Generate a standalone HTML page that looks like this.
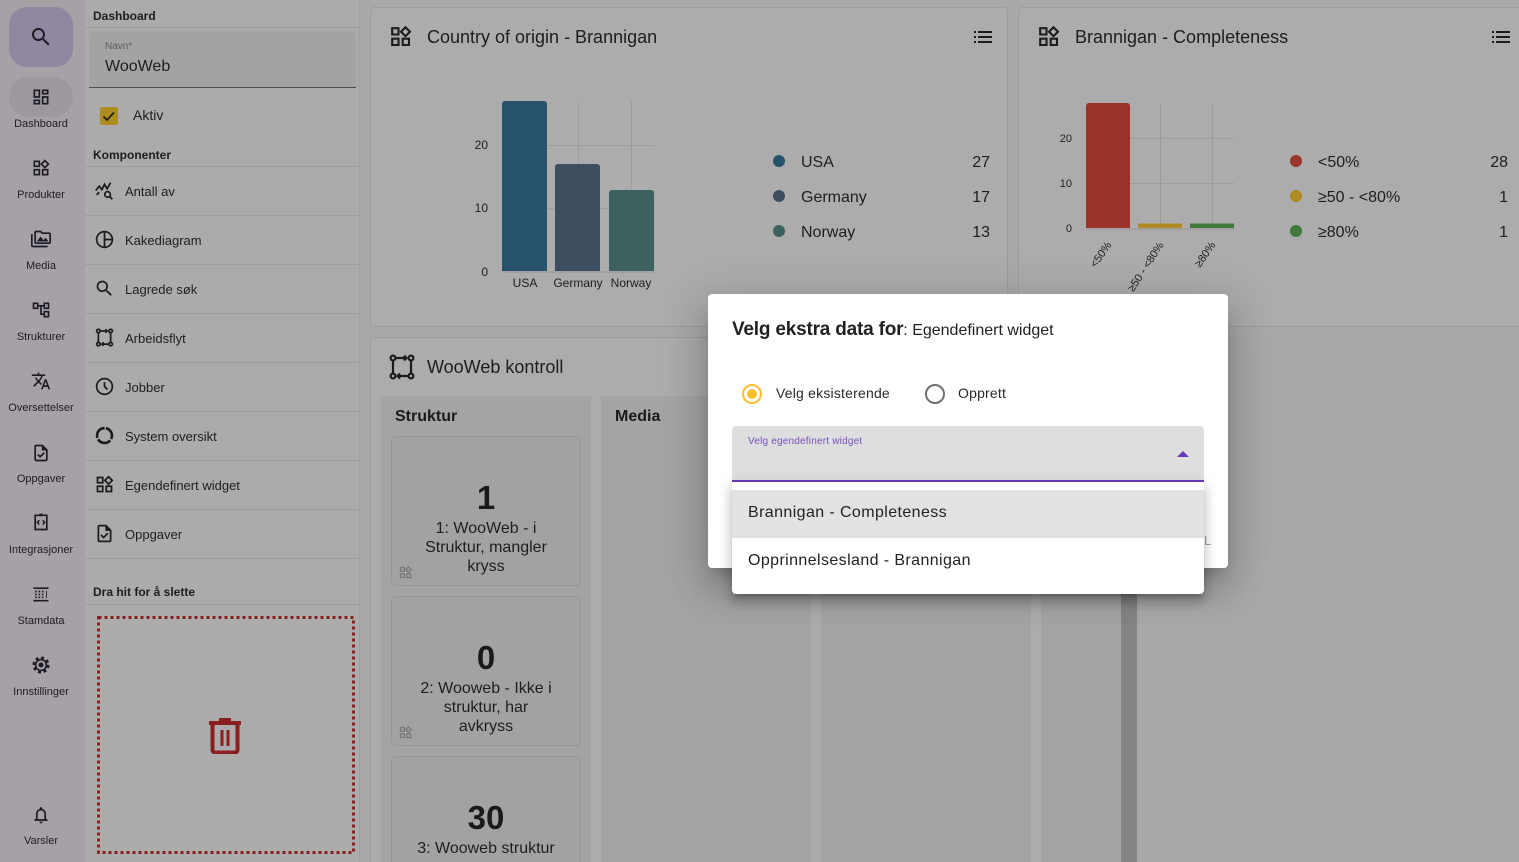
<!DOCTYPE html>
<html style="overflow:hidden;background:#a9a9a9"><head><meta charset="utf-8">
<style>
*{box-sizing:border-box;margin:0;padding:0}
html,body{width:1519px;height:862px;overflow:hidden}
body{background:#a9a9a9;font-family:"Liberation Sans",sans-serif;color:#1e1e1e}
#root{position:relative;width:1519px;height:862px;overflow:hidden;background:#a9a9a9}
.a{position:absolute}
.sl{position:absolute;left:0;width:82px;text-align:center;font-size:11px;color:#1f1b26;line-height:14px}
.si{position:absolute;left:31px;width:20px;height:20px}
.pl{position:absolute;left:85px;width:275px;height:1px;background:#9d9d9d}
.pt{position:absolute;left:125px;font-size:13px;line-height:16px;color:#1e1e1e}
.pi{position:absolute;left:94px;width:21px;height:21px}
.tile{position:absolute;left:391px;width:190px;height:150px;background:#a2a2a2;border:1px solid #979797;border-radius:4px;overflow:hidden}
.num{position:absolute;left:0;width:100%;text-align:center;font-size:33px;font-weight:bold;color:#1a1a1a;line-height:36px}
.tt{position:absolute;left:0;width:100%;text-align:center;font-size:16px;line-height:19px;color:#1e1e1e}
.ti{position:absolute;left:6px;width:15px;height:15px}
</style></head><body><div id="root">

<!-- left sidebar -->
<div class="a" style="left:0;top:0;width:85px;height:862px;background:#a6a1a6;box-shadow:1px 0 2px rgba(0,0,0,.12)"></div>
<div class="a" style="left:9px;top:7px;width:64px;height:60px;border-radius:18px;background:#8f88a0"></div>
<svg class="a" style="left:29px;top:25px" width="24" height="24" viewBox="0 0 24 24"><path fill="#1c1a24" d="M15.5 14h-.79l-.28-.27C15.41 12.59 16 11.11 16 9.5 16 5.91 13.09 3 9.5 3S3 5.91 3 9.5 5.91 16 9.5 16c1.610 0 3.090-.59 4.230-1.57l.27.28v.79l5 4.99L20.49 19l-4.99-5zm-6 0C7.01 14 5 11.99 5 9.5S7.01 5 9.5 5 14 7.01 14 9.5 11.99 14 9.5 14z"/></svg>
<div class="a" style="left:9px;top:77px;width:64px;height:40px;border-radius:20px;background:#9d989d"></div>

<svg class="si" style="top:87px" viewBox="0 0 24 24"><path fill="#1c1a24" d="M19 5v2h-4V5h4M9 5v6H5V5h4m10 8v6h-4v-6h4M9 17v2H5v-2h4M21 3h-8v6h8V3zM11 3H3v10h8V3zm10 8h-8v10h8V11zm-10 4H3v6h8v-6z"/></svg>
<div class="sl" style="top:117px">Dashboard</div>
<svg class="si" style="top:158px" viewBox="0 0 24 24"><path fill="#1c1a24" d="M16.66 4.52l2.83 2.83-2.83 2.83-2.830-2.830 2.830-2.830M9 5v4H5V5h4m10 10v4h-4v-4h4M9 15v4H5v-4h4m7.66-13.31L11 7.34 16.66 13l5.66-5.66-5.66-5.65zM11 3H3v8h8V3zm10 10h-8v8h8v-8zm-10 0H3v8h8v-8z"/></svg>
<div class="sl" style="top:188px">Produkter</div>
<svg class="si" style="top:229px" viewBox="0 0 24 24"><path fill="#1c1a24" d="M2 6H0v5h.01L0 20c0 1.1.9 2 2 2h18v-2H2V6zm5 9h14l-3.5-4.5-2.5 3.01L11.5 9zM22 4h-8l-2-2H6c-1.1 0-1.99.9-1.99 2L4 16c0 1.1.9 2 2 2h16c1.1 0 2-.9 2-2V6c0-1.1-.9-2-2-2zm0 12H6V4h5.17l1.41 1.41.59.59H22v10z"/></svg>
<div class="sl" style="top:259px">Media</div>
<svg class="si" style="top:300px" viewBox="0 0 24 24"><path fill="#1c1a24" d="M22 11V3h-7v3H9V3H2v8h7V8h2v10h4v3h7v-8h-7v3h-2V8h2v3h7zM7 9H4V5h3v4zm10 6h3v4h-3v-4zm0-10h3v4h-3V5z"/></svg>
<div class="sl" style="top:330px">Strukturer</div>
<svg class="si" style="top:371px" viewBox="0 0 24 24"><path fill="#1c1a24" d="M12.87 15.07l-2.54-2.51.03-.03c1.74-1.94 2.98-4.17 3.71-6.53H17V4h-7V2H8v2H1v1.99h11.17C11.5 7.92 10.44 9.75 9 11.35 8.07 10.32 7.3 9.19 6.69 8h-2c.73 1.63 1.73 3.17 2.98 4.56l-5.09 5.02L4 19l5-5 3.11 3.11.76-2.04zM18.5 10h-2L12 22h2l1.12-3h4.75L21 22h2l-4.5-12zm-2.62 7l1.620-4.33L19.12 17h-3.24z"/></svg>
<div class="sl" style="top:401px">Oversettelser</div>
<svg class="si" style="top:443px" viewBox="0 0 24 24"><path fill="#1c1a24" d="M14 2H6c-1.1 0-1.99.9-1.99 2L4 20c0 1.1.89 2 1.99 2H18c1.1 0 2-.9 2-2V8l-6-6zM18 20H6V4h7v5h5v11zm-9.18-6.95L7.4 14.46 10.94 18l5.66-5.66-1.41-1.41-4.24 4.24-2.13-2.12z"/></svg>
<div class="sl" style="top:472px">Oppgaver</div>
<svg class="si" style="top:512px" viewBox="0 0 24 24"><path fill="none" stroke="#1c1a24" stroke-width="2" d="M5 4h14v17H5z"/><path fill="#1c1a24" d="M10 2h4v3h-4z"/><path fill="none" stroke="#1c1a24" stroke-width="1.8" d="M10 10l-2.5 2.5L10 15M14 10l2.5 2.5L14 15"/></svg>
<div class="sl" style="top:543px">Integrasjoner</div>
<svg class="si" style="top:584px" viewBox="0 0 24 24"><path fill="#1c1a24" d="M3 4h18v2H3zM3 19h18v2H3zM5 8h2v2H5zM9 8h2v2H9zM13 8h2v2h-2zM5 11.5h2v2H5zM9 11.5h2v2H9zM13 11.5h2v2h-2zM5 15h2v2H5zM9 15h2v2H9zM13 15h2v2h-2zM18 8h1v9h-1z"/></svg>
<div class="sl" style="top:614px">Stamdata</div>
<svg class="si" style="top:655px" viewBox="0 0 24 24"><circle cx="12" cy="12" r="8.5" fill="none" stroke="#1c1a24" stroke-width="3.5" stroke-dasharray="3.4 3.27"/><circle cx="12" cy="12" r="6.5" fill="none" stroke="#1c1a24" stroke-width="2"/><circle cx="12" cy="12" r="3" fill="#1c1a24"/></svg>
<div class="sl" style="top:685px">Innstillinger</div>
<svg class="si" style="top:805px" viewBox="0 0 24 24"><path fill="#1c1a24" d="M12 22c1.1 0 2-.9 2-2h-4c0 1.1.89 2 2 2zm6-6v-5c0-3.07-1.64-5.64-4.5-6.32V4c0-.83-.67-1.5-1.5-1.5s-1.5.67-1.5 1.5v.68C7.63 5.36 6 7.92 6 11v5l-2 2v1h16v-1l-2-2zm-2 1H8v-6c0-2.48 1.51-4.5 4-4.5s4 2.02 4 4.5v6z"/></svg>
<div class="sl" style="top:834px">Varsler</div>

<!-- second panel -->
<div class="a" style="left:85px;top:0;width:275px;height:862px;background:#ababab;border-right:1px solid #a0a0a0"></div>
<div class="a" style="left:93px;top:9px;font-size:12px;font-weight:bold;color:#1e1e1e">Dashboard</div>
<div class="pl" style="top:27px"></div>
<div class="a" style="left:89px;top:32px;width:267px;height:56px;background:#a3a3a3;border-radius:4px 4px 0 0;border-bottom:1px solid #4e4e4e"></div>
<div class="a" style="left:105px;top:41px;font-size:10px;color:#5e5e5e">Navn*</div>
<div class="a" style="left:105px;top:58px;font-size:16px;color:#1e1e1e">WooWeb</div>
<div class="a" style="left:100px;top:107px;width:18px;height:18px;border-radius:2px;background:#ae8c20"></div>
<svg class="a" style="left:100px;top:107px" width="18" height="18" viewBox="0 0 18 18"><path d="M3.5 9.5l3.5 3.5 7-7.5" fill="none" stroke="#1e1e1e" stroke-width="1.8"/></svg>
<div class="a" style="left:133px;top:107px;font-size:14px;color:#1e1e1e">Aktiv</div>
<div class="a" style="left:93px;top:148px;font-size:12px;font-weight:bold;color:#1e1e1e">Komponenter</div>
<div class="pl" style="top:166px"></div>

<svg class="pi" style="top:180px" viewBox="0 0 24 24"><path d="M2 12l4-5 3 4 3-6 3 5 4-7" fill="none" stroke="#1c1c1c" stroke-width="2"/><circle cx="15.5" cy="16.5" r="3.2" fill="none" stroke="#1c1c1c" stroke-width="2"/><path d="M18 19l3 3" stroke="#1c1c1c" stroke-width="2"/><path d="M3 17l3-3" stroke="#1c1c1c" stroke-width="2"/></svg>
<div class="pt" style="top:184px">Antall av</div>
<div class="pl" style="top:215px"></div>
<svg class="pi" style="top:229px" viewBox="0 0 24 24"><circle cx="12" cy="12" r="9" fill="none" stroke="#1c1c1c" stroke-width="2"/><path d="M12 3v18M12 12h9" stroke="#1c1c1c" stroke-width="2"/></svg>
<div class="pt" style="top:233px">Kakediagram</div>
<div class="pl" style="top:264px"></div>
<svg class="pi" style="top:278px" viewBox="0 0 24 24"><path fill="#1c1c1c" d="M15.5 14h-.79l-.28-.27C15.41 12.59 16 11.11 16 9.5 16 5.91 13.09 3 9.5 3S3 5.91 3 9.5 5.91 16 9.5 16c1.61 0 3.09-.59 4.23-1.57l.27.28v.79l5 4.99L20.49 19l-4.99-5zm-6 0C7.01 14 5 11.99 5 9.5S7.01 5 9.5 5 14 7.01 14 9.5 11.99 14 9.5 14z"/></svg>
<div class="pt" style="top:282px">Lagrede søk</div>
<div class="pl" style="top:313px"></div>
<svg class="pi" style="top:327px" viewBox="0 0 24 24"><g fill="none" stroke="#1c1c1c" stroke-width="2"><circle cx="5" cy="4.5" r="2"/><circle cx="19" cy="4.5" r="2"/><circle cx="5" cy="19.5" r="2"/><circle cx="19" cy="19.5" r="2"/><path d="M5 6.5v11M19 6.5v11M7 4.5h8M13 2.5l2 2-2 2M9 19.5h8M11 17.5l-2 2 2 2"/></g></svg>
<div class="pt" style="top:331px">Arbeidsflyt</div>
<div class="pl" style="top:362px"></div>
<svg class="pi" style="top:376px" viewBox="0 0 24 24"><circle cx="12" cy="12" r="9" fill="none" stroke="#1c1c1c" stroke-width="2"/><path d="M12 7v5l3.5 3.5" fill="none" stroke="#1c1c1c" stroke-width="2"/></svg>
<div class="pt" style="top:380px">Jobber</div>
<div class="pl" style="top:411px"></div>
<svg class="pi" style="top:425px" viewBox="0 0 24 24"><circle cx="12" cy="12" r="8.5" fill="none" stroke="#1c1c1c" stroke-width="3" stroke-dasharray="16 1.8" transform="rotate(-80 12 12)"/></svg>
<div class="pt" style="top:429px">System oversikt</div>
<div class="pl" style="top:460px"></div>
<svg class="pi" style="top:474px" viewBox="0 0 24 24"><path fill="#1c1c1c" d="M16.66 4.52l2.83 2.83-2.83 2.83-2.830-2.830 2.830-2.830M9 5v4H5V5h4m10 10v4h-4v-4h4M9 15v4H5v-4h4m7.66-13.31L11 7.34 16.66 13l5.66-5.66-5.66-5.65zM11 3H3v8h8V3zm10 10h-8v8h8v-8zm-10 0H3v8h8v-8z"/></svg>
<div class="pt" style="top:478px">Egendefinert widget</div>
<div class="pl" style="top:509px"></div>
<svg class="pi" style="top:523px" viewBox="0 0 24 24"><path fill="#1c1c1c" d="M14 2H6c-1.1 0-1.99.9-1.99 2L4 20c0 1.1.89 2 1.99 2H18c1.1 0 2-.9 2-2V8l-6-6zM18 20H6V4h7v5h5v11zm-9.18-6.95L7.4 14.46 10.94 18l5.66-5.66-1.41-1.41-4.24 4.24-2.13-2.12z"/></svg>
<div class="pt" style="top:527px">Oppgaver</div>
<div class="pl" style="top:558px"></div>
<div class="a" style="left:93px;top:585px;font-size:12px;font-weight:bold;color:#1e1e1e">Dra hit for å slette</div>
<div class="pl" style="top:604px"></div>
<svg class="a" style="left:96px;top:615px" width="260" height="240"><rect x="2.5" y="2.5" width="255" height="235" fill="none" stroke="#8a1f1f" stroke-width="3" stroke-dasharray="3 3"/></svg>
<svg class="a" style="left:208px;top:716px" width="34" height="38" viewBox="0 0 34 38"><path d="M1 5h32v4H1z M11 2h12v4H11z" fill="#8a1f1f"/><path d="M4.5 9v25a2.5 2.5 0 0 0 2.5 2.5h20a2.5 2.5 0 0 0 2.5-2.5V9" fill="none" stroke="#8a1f1f" stroke-width="4"/><path d="M12.5 14h3v16h-3zM18.5 14h3v16h-3z" fill="#8a1f1f"/></svg>

<!-- cards -->
<div class="a" style="left:370px;top:7px;width:638px;height:320px;background:#acacac;border:1px solid #9e9e9e;border-radius:4px"></div>
<div class="a" style="left:1018px;top:7px;width:501px;height:320px;background:#acacac;border:1px solid #9e9e9e;border-right:none;border-radius:4px 0 0 4px"></div>
<div class="a" style="left:370px;top:337px;width:767px;height:525px;background:#acacac;border:1px solid #9e9e9e;border-bottom:none;border-radius:4px 4px 0 0"></div>

<div class="a" style="left:427px;top:27px;font-size:18px;color:#1d1d1d">Country of origin - Brannigan</div>
<div class="a" style="left:1075px;top:27px;font-size:18px;color:#1d1d1d">Brannigan - Completeness</div>
<div class="a" style="left:427px;top:357px;font-size:18px;color:#1d1d1d">WooWeb kontroll</div>

<!-- columns -->
<div class="a" style="left:381px;top:396px;width:210px;height:466px;background:#a4a4a4"></div>
<div class="a" style="left:601px;top:396px;width:210px;height:466px;background:#a4a4a4"></div>
<div class="a" style="left:821px;top:396px;width:210px;height:466px;background:#a4a4a4"></div>
<div class="a" style="left:1041px;top:396px;width:80px;height:466px;background:#a4a4a4"></div>
<div class="a" style="left:1121px;top:396px;width:16px;height:466px;background:#858585"></div>
<div class="a" style="left:395px;top:408px;font-size:16px;font-weight:bold;color:#1a1a1a">Struktur</div>
<div class="a" style="left:615px;top:408px;font-size:16px;font-weight:bold;color:#1a1a1a">Media</div>

<div class="tile" style="top:436px">
  <div class="num" style="top:43px">1</div>
  <div class="tt" style="top:82px">1: WooWeb - i<br>Struktur, mangler<br>kryss</div>
  <svg class="ti" style="top:128px" viewBox="0 0 24 24"><path fill="#777" d="M16.66 4.52l2.83 2.83-2.83 2.83-2.830-2.830 2.830-2.830M9 5v4H5V5h4m10 10v4h-4v-4h4M9 15v4H5v-4h4m7.66-13.31L11 7.34 16.66 13l5.66-5.66-5.66-5.65zM11 3H3v8h8V3zm10 10h-8v8h8v-8zm-10 0H3v8h8v-8z"/></svg>
</div>
<div class="tile" style="top:596px">
  <div class="num" style="top:43px">0</div>
  <div class="tt" style="top:82px">2: Wooweb - Ikke i<br>struktur, har<br>avkryss</div>
  <svg class="ti" style="top:128px" viewBox="0 0 24 24"><path fill="#777" d="M16.66 4.52l2.83 2.83-2.83 2.83-2.830-2.830 2.830-2.830M9 5v4H5V5h4m10 10v4h-4v-4h4M9 15v4H5v-4h4m7.66-13.31L11 7.34 16.66 13l5.66-5.66-5.66-5.65zM11 3H3v8h8v-8zm10 10h-8v8h8v-8zm-10 0H3v8h8v-8z"/></svg>
</div>
<div class="tile" style="top:756px;height:106px;border-bottom:none;border-radius:4px 4px 0 0">
  <div class="num" style="top:43px">30</div>
  <div class="tt" style="top:82px">3: Wooweb struktur</div>
</div>

<!-- charts & icons -->
<svg class="a" style="left:0;top:0" width="1519" height="862" font-family="Liberation Sans, sans-serif">
  <g fill="#1c1c1c">
    <path transform="translate(388,24) scale(1.05)" d="M16.66 4.52l2.83 2.83-2.83 2.83-2.830-2.830 2.830-2.830M9 5v4H5V5h4m10 10v4h-4v-4h4M9 15v4H5v-4h4m7.66-13.31L11 7.34 16.66 13l5.66-5.66-5.66-5.65zM11 3H3v8h8V3zm10 10h-8v8h8v-8zm-10 0H3v8h8v-8z"/>
    <path transform="translate(1036,24) scale(1.05)" d="M16.66 4.52l2.83 2.83-2.83 2.83-2.830-2.830 2.830-2.830M9 5v4H5V5h4m10 10v4h-4v-4h4M9 15v4H5v-4h4m7.66-13.31L11 7.34 16.66 13l5.66-5.66-5.66-5.65zM11 3H3v8h8V3zm10 10h-8v8h8v-8zm-10 0H3v8h8v-8z"/>
    <rect x="974" y="31" width="2" height="2"/><rect x="978" y="31" width="14" height="2"/>
    <rect x="974" y="36" width="2" height="2"/><rect x="978" y="36" width="14" height="2"/>
    <rect x="974" y="41" width="2" height="2"/><rect x="978" y="41" width="14" height="2"/>
    <rect x="1492" y="31" width="2" height="2"/><rect x="1496" y="31" width="14" height="2"/>
    <rect x="1492" y="36" width="2" height="2"/><rect x="1496" y="36" width="14" height="2"/>
    <rect x="1492" y="41" width="2" height="2"/><rect x="1496" y="41" width="14" height="2"/>
  </g>
  <g fill="none" stroke="#1c1c1c" stroke-width="2.2" transform="translate(389,354)">
    <circle cx="4" cy="4" r="2.4"/><circle cx="22" cy="4" r="2.4"/><circle cx="4" cy="22" r="2.4"/><circle cx="22" cy="22" r="2.4"/>
    <path d="M4 6.5v13M22 6.5v13M6.5 4h11M15 1.5l2.5 2.5-2.5 2.5M8.5 22h11M11 19.5L8.5 22l2.5 2.5"/>
  </g>

  <!-- chart 1 -->
  <g stroke="#9d9d9d" stroke-width="1">
    <line x1="502" y1="145.5" x2="654" y2="145.5"/>
    <line x1="502" y1="208.5" x2="654" y2="208.5"/>
    <line x1="578.5" y1="101" x2="578.5" y2="271"/>
    <line x1="631.5" y1="101" x2="631.5" y2="271"/>
  </g>
  <line x1="502" y1="272" x2="654" y2="272" stroke="#a0a0a0" stroke-width="2"/>
  <path d="M502 271V104a3 3 0 0 1 3-3h39a3 3 0 0 1 3 3V271z" fill="#26536b"/>
  <path d="M555 271V167a3 3 0 0 1 3-3h39a3 3 0 0 1 3 3V271z" fill="#3c4e60"/>
  <path d="M609 271V193a3 3 0 0 1 3-3h39a3 3 0 0 1 3 3V271z" fill="#3b625f"/>
  <g font-size="12" fill="#1e1e1e" text-anchor="end">
    <text x="488" y="149">20</text><text x="488" y="212">10</text><text x="488" y="276">0</text>
  </g>
  <g font-size="12" fill="#1e1e1e" text-anchor="middle">
    <text x="525" y="287">USA</text><text x="578" y="287">Germany</text><text x="631" y="287">Norway</text>
  </g>
  <circle cx="779" cy="161" r="6" fill="#26536b"/>
  <circle cx="779" cy="196" r="6" fill="#3c4e60"/>
  <circle cx="779" cy="231" r="6" fill="#3b625f"/>
  <g font-size="16" fill="#1e1e1e">
    <text x="801" y="167">USA</text><text x="801" y="202">Germany</text><text x="801" y="237">Norway</text>
  </g>
  <g font-size="16" fill="#1e1e1e" text-anchor="end">
    <text x="990" y="167">27</text><text x="990" y="202">17</text><text x="990" y="237">13</text>
  </g>

  <!-- chart 2 -->
  <g stroke="#9d9d9d" stroke-width="1">
    <line x1="1086" y1="138.5" x2="1234" y2="138.5"/>
    <line x1="1086" y1="183.5" x2="1234" y2="183.5"/>
    <line x1="1160.5" y1="103" x2="1160.5" y2="228"/>
    <line x1="1212.5" y1="103" x2="1212.5" y2="228"/>
  </g>
  <line x1="1086" y1="229" x2="1234" y2="229" stroke="#a0a0a0" stroke-width="2"/>
  <path d="M1086 228V106a3 3 0 0 1 3-3h38a3 3 0 0 1 3 3V228z" fill="#9a3428"/>
  <rect x="1138" y="223.5" width="44" height="4.5" fill="#b08a22"/>
  <rect x="1190" y="223.5" width="44" height="4.5" fill="#3f7a3b"/>
  <g font-size="11" fill="#1e1e1e" text-anchor="end">
    <text x="1072" y="142">20</text><text x="1072" y="187">10</text><text x="1072" y="232">0</text>
  </g>
  <g font-size="11" fill="#1e1e1e" text-anchor="end">
    <text transform="translate(1112,245) rotate(-55)">&lt;50%</text>
    <text transform="translate(1164,245) rotate(-57)">≥50 - &lt;80%</text>
    <text transform="translate(1216,245) rotate(-55)">≥80%</text>
  </g>
  <circle cx="1296" cy="161" r="6" fill="#9a3428"/>
  <circle cx="1296" cy="196" r="6" fill="#b08a22"/>
  <circle cx="1296" cy="231" r="6" fill="#3f7a3b"/>
  <g font-size="16" fill="#1e1e1e">
    <text x="1318" y="167">&lt;50%</text><text x="1318" y="202">≥50 - &lt;80%</text><text x="1318" y="237">≥80%</text>
  </g>
  <g font-size="16" fill="#1e1e1e" text-anchor="end">
    <text x="1508" y="167">28</text><text x="1508" y="202">1</text><text x="1508" y="237">1</text>
  </g>
</svg>

<!-- dialog -->
<div class="a" style="left:708px;top:294px;width:520px;height:274px;background:#fff;border-radius:4px;box-shadow:0 11px 15px -7px rgba(0,0,0,.2),0 24px 38px 3px rgba(0,0,0,.14),0 9px 46px 8px rgba(0,0,0,.12)"></div>
<div class="a" style="left:732px;top:319px;white-space:nowrap;color:#212121"><span style="font-size:19px;font-weight:bold;letter-spacing:-0.2px">Velg ekstra data for</span><span style="font-size:16px">: Egendefinert widget</span></div>
<svg class="a" style="left:740px;top:382px" width="24" height="24"><circle cx="12" cy="12" r="9" fill="none" stroke="#fbc02d" stroke-width="2"/><circle cx="12" cy="12" r="5" fill="#fbc02d"/></svg>
<div class="a" style="left:776px;top:385px;font-size:14px;color:#2a2a2a;letter-spacing:0.2px">Velg eksisterende</div>
<svg class="a" style="left:923px;top:382px" width="24" height="24"><circle cx="12" cy="12" r="9" fill="none" stroke="#707070" stroke-width="2"/></svg>
<div class="a" style="left:958px;top:385px;font-size:14px;color:#2a2a2a;letter-spacing:0.2px">Opprett</div>
<div class="a" style="left:1204px;top:533px;font-size:13px;color:#a0a0a0">L</div>
<div class="a" style="left:732px;top:426px;width:472px;height:56px;background:#dedede;border-radius:4px 4px 0 0;border-bottom:2px solid #673ab7"></div>
<div class="a" style="left:748px;top:436px;font-size:10px;color:#7650c0;letter-spacing:0.2px">Velg egendefinert widget</div>
<svg class="a" style="left:1176px;top:449px" width="14" height="10"><path d="M1 8L7 2l6 6z" fill="#673ab7"/></svg>
<div class="a" style="left:732px;top:482px;width:472px;height:112px;background:#fff;border-radius:0 0 4px 4px;box-shadow:0 5px 5px -3px rgba(0,0,0,.2),0 8px 10px 1px rgba(0,0,0,.14),0 3px 14px 2px rgba(0,0,0,.12)"></div>
<div class="a" style="left:732px;top:490px;width:472px;height:48px;background:#e2e2e2"></div>
<div class="a" style="left:748px;top:504px;font-size:16px;color:#222;letter-spacing:0.4px">Brannigan - Completeness</div>
<div class="a" style="left:748px;top:552px;font-size:16px;color:#222;letter-spacing:0.4px">Opprinnelsesland - Brannigan</div>

</div></body></html>
